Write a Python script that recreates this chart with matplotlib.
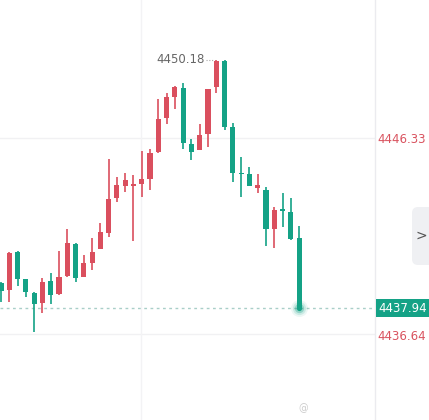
import numpy as np
import matplotlib.pyplot as plt
from matplotlib.patches import FancyBboxPatch

# K线数据 (开, 高, 低, 收)
opens  = [4439.17, 4438.82, 4440.70, 4439.37, 4438.68, 4438.18, 4439.27, 4438.63, 4439.51, 4441.09,
          4439.46, 4440.15, 4440.84, 4441.63, 4443.36, 4443.95, 4443.97, 4444.05, 4444.29, 4445.62,
          4447.30, 4448.34, 4448.78, 4446.02, 4445.72, 4446.51, 4448.83, 4450.11, 4446.86, 4444.57,
          4444.54, 4443.85, 4443.75, 4441.83, 4442.79, 4442.67, 4441.39]
highs  = [4439.22, 4440.70, 4440.75, 4439.37, 4438.72, 4439.41, 4439.66, 4440.75, 4441.83, 4441.14,
          4440.55, 4441.39, 4442.13, 4445.28, 4444.39, 4444.59, 4444.49, 4445.67, 4445.77, 4448.24,
          4448.53, 4448.88, 4449.03, 4446.27, 4447.01, 4448.73, 4450.18, 4450.15, 4447.05, 4445.38,
          4444.89, 4444.54, 4443.90, 4442.91, 4443.60, 4443.36, 4441.98]
lows   = [4438.23, 4438.23, 4439.02, 4438.48, 4436.75, 4437.69, 4438.13, 4438.58, 4439.46, 4439.22,
          4439.46, 4439.81, 4440.84, 4441.44, 4443.16, 4443.65, 4441.24, 4443.41, 4443.75, 4445.58,
          4447.01, 4447.74, 4445.77, 4445.23, 4445.72, 4445.87, 4448.53, 4446.71, 4444.15, 4443.41,
          4443.95, 4443.60, 4440.99, 4440.89, 4441.93, 4441.29, 4437.94]
closes = [4438.77, 4440.65, 4439.37, 4438.72, 4438.13, 4439.22, 4438.58, 4439.46, 4441.14, 4439.41,
          4440.15, 4440.70, 4441.68, 4443.31, 4444.00, 4444.25, 4444.02, 4444.29, 4445.58, 4447.25,
          4448.34, 4448.83, 4446.07, 4445.62, 4446.46, 4448.73, 4450.11, 4446.86, 4444.59, 4444.52,
          4443.95, 4444.00, 4441.83, 4442.77, 4442.74, 4441.34, 4437.94]
axis_prices = [4446.33, 4436.64]
last_price = 4437.94
max_price = 4450.18

red = '#da4f5e'
green = '#14a286'

fig = plt.figure(figsize=(4.29, 4.20), dpi=100)
ax = fig.add_axes([0, 0, 1, 1])
ax.set_xlim(-0.12, 51.69)
ax.set_ylim(4432.42, 4453.12)
ax.axis('off')

# 网格线
for p in axis_prices:
    ax.axhline(p, xmin=0, xmax=45.17 / 51.81, color='#f1f1f3', lw=1, zorder=0)
ax.axvline(16.95, color='#f3f3f5', lw=1, zorder=0)
ax.axvline(45.17, color='#ebebef', lw=1, zorder=0)

x = np.arange(len(opens))
for i in x:
    o, h, l, c = opens[i], highs[i], lows[i], closes[i]
    col = red if c >= o else green
    ax.vlines(i, l, h, color=col, lw=1.2, zorder=2)
    bottom = min(o, c)
    height = max(abs(c - o), 0.06)
    ax.bar(i, height, bottom=bottom, width=0.62, color=col, lw=0, zorder=3)

# 最新价虚线
ax.plot([-0.12, 45.17], [last_price, last_price], color='#a9cfc8', lw=1,
        ls=(0, (2, 2.5)), zorder=1)

# 最新价光点
for s, a in [(150, 0.08), (90, 0.15), (45, 0.3)]:
    ax.scatter(x[-1], last_price, s=s, color=green, alpha=a, lw=0, zorder=4)
ax.scatter(x[-1], last_price, s=14, color=green, lw=0, zorder=5)

# 最高价标注
imax = int(np.argmax(highs))
ax.text(imax - 1.4, max_price, '{:.2f}'.format(max_price), ha='right', va='center',
        fontsize=8.5, color='#666666', zorder=5)
ax.plot([imax - 1.2, imax - 0.4], [max_price, max_price], color='#aaaaaa', lw=0.8,
        ls=(0, (1, 1.5)), zorder=5)

# 右侧价格轴
for p in axis_prices:
    ax.text(45.5, p - 0.1, '{:.2f}'.format(p), ha='left', va='center',
            fontsize=8.5, color='#d9535f')
ax.text(45.55, last_price, '{:.2f}'.format(last_price), ha='left', va='center',
        fontsize=8.5, color='white',
        bbox=dict(boxstyle='square,pad=0.2', fc=green, ec='none'))

# 右侧折叠按钮
btn = FancyBboxPatch((412, 155), 30, 58, boxstyle='round,pad=0,rounding_size=6',
                     transform=None, fc='#eff0f3', ec='none', zorder=6)
fig.patches.append(btn)
fig.text(421 / 429, 1 - 236 / 420, '>', ha='center', va='center', fontsize=10,
         color='#555555', zorder=7)

# 水印
fig.text(298 / 429, 1 - 408 / 420, '@', ha='left', va='center', fontsize=7,
         color='#cccccc')

fig.savefig('out.png', dpi=100)
